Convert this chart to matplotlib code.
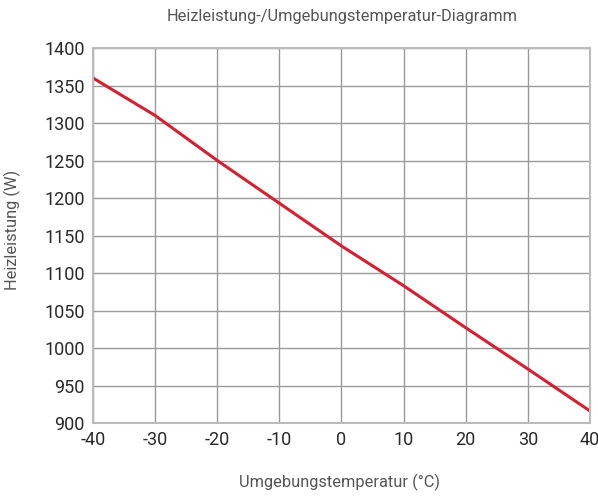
import matplotlib
matplotlib.use("Agg")
import matplotlib.pyplot as plt

plt.rcParams['axes.unicode_minus'] = False

# ambient temperature (°C) vs heating power (W)
temps = [-40, -30, -20, -10, 0, 10, 20, 30, 40]
power = [1360, 1310, 1250, 1193, 1136, 1083, 1027, 972, 916]

x_ticks = [-40, -30, -20, -10, 0, 10, 20, 30, 40]
y_ticks = [900, 950, 1000, 1050, 1100, 1150, 1200, 1250, 1300, 1350, 1400]

fig = plt.figure(figsize=(5.98, 4.99), dpi=100)
ax = fig.add_axes([0.1555, 0.1523, 0.8311, 0.7515])

ax.plot(temps, power, color='#d42030', linewidth=2.2, solid_capstyle='butt')

ax.set_xlim(-40, 40)
ax.set_ylim(900, 1400)
ax.set_xticks(x_ticks)
ax.set_yticks(y_ticks)
ax.grid(True, color='#9a9a9a', linewidth=1.0)
ax.set_axisbelow(True)
for s in ax.spines.values():
    s.set_color('#bbbbbb')
    s.set_linewidth(1.5)
ax.tick_params(length=0, pad=6, labelsize=13, labelcolor='#2a2a2a')
for lab in ax.get_xticklabels() + ax.get_yticklabels():
    lab.set_family('Roboto')
    lab.set_stretch('condensed')

txt = dict(ha='center', va='center', fontsize=11.8, color='#555555',
           family='Roboto', fontstretch='condensed')
fig.text(0.572, 0.966, "Heizleistung-/Umgebungstemperatur-Diagramm", **txt)
fig.text(0.568, 0.034, "Umgebungstemperatur (°C)", **txt)
fig.text(0.021, 0.539, "Heizleistung (W)", rotation=90, **txt)

fig.savefig("out.png", dpi=100)
